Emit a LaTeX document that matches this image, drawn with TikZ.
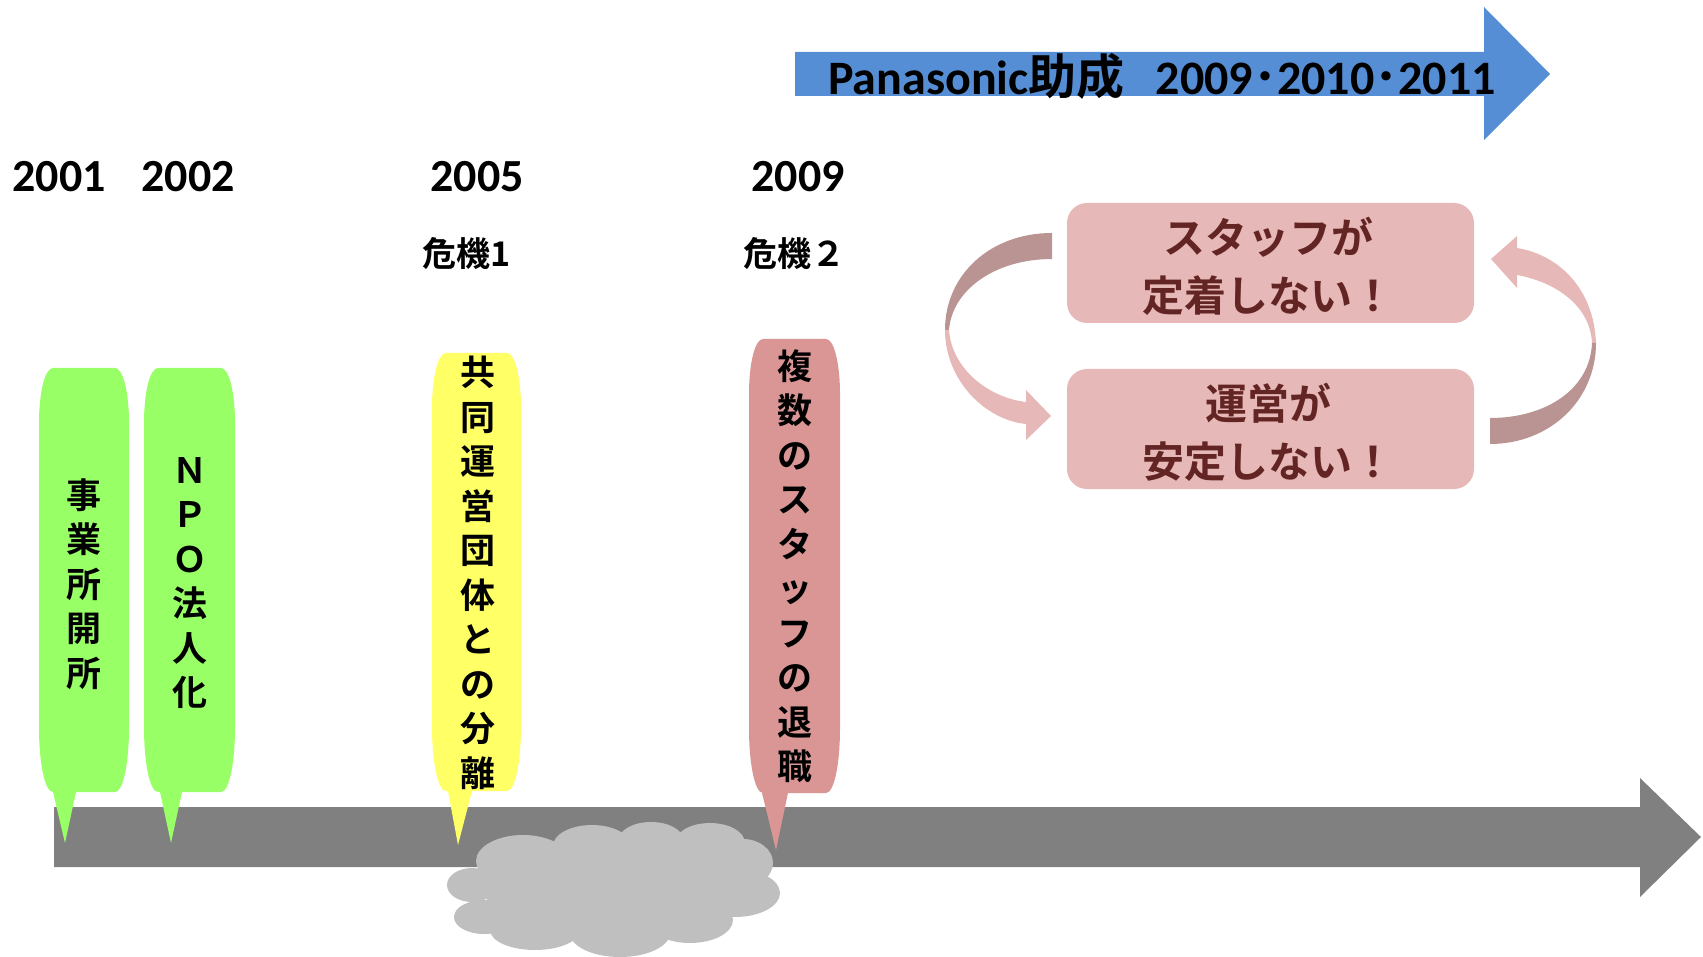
\documentclass[tikz,border=0pt]{standalone}
\usepackage{fontspec}
\newfontfamily\jp{Noto Sans CJK JP}[BoldFont={Noto Sans CJK JP Bold}]
\newfontfamily\calib{Carlito}
\definecolor{tlgray}{HTML}{808080}
\definecolor{cloudgray}{HTML}{BFBFBF}
\definecolor{bgreen}{HTML}{99FF66}
\definecolor{byellow}{HTML}{FFFF66}
\definecolor{bpink}{HTML}{D99694}
\definecolor{boxpink}{HTML}{E6B9B8}
\definecolor{boxtext}{HTML}{632523}
\definecolor{arrdark}{HTML}{B99492}
\definecolor{arrblue}{HTML}{558ED5}
\newcommand{\speechbub}[9]{%
 \fill[#9] (#1,#3+55) .. controls (#1,#3+24) and (#1+6,#3) .. (#1+14,#3) -- (#2-14,#3)
   .. controls (#2-6,#3) and (#2,#3+24) .. (#2,#3+55) -- (#2,#4-65)
   .. controls (#2,#4-28) and (#2-6,#4) .. (#2-14,#4) -- (#6,#4) -- (#7,#8) -- (#5,#4)
   -- (#1+14,#4) .. controls (#1+6,#4) and (#1,#4-28) .. (#1,#4-65) -- cycle;}
\begin{document}
\begin{tikzpicture}[x=1pt,y=-1pt,
  year/.style={font=\calib\bfseries\fontsize{46}{50}\selectfont, inner sep=0pt},
  crisis/.style={font=\jp\bfseries\fontsize{34}{38}\selectfont, inner sep=0pt},
  vtext/.style={font=\jp\bfseries\fontsize{35}{44.5}\selectfont, align=center, inner sep=0pt},
  boxtxt/.style={font=\jp\bfseries\fontsize{42}{58}\selectfont, align=center, inner sep=0pt, text=boxtext},
  pbox/.style={fill=boxpink, rounded corners=20pt}]
\useasboundingbox (0,0) rectangle (1703,957);
% timeline arrow
\fill[tlgray] (54,807) -- (1640,807) -- (1640,778) -- (1701,837) -- (1640,897) -- (1640,867) -- (54,867) -- cycle;
% cloud
\begin{scope}[cloudgray]
\fill (472,885) ellipse [x radius=25, y radius=17];
\fill (484,917) ellipse [x radius=30, y radius=17];
\fill (523,861) ellipse [x radius=47, y radius=26];
\fill (592,846) ellipse [x radius=39, y radius=21];
\fill (651,841) ellipse [x radius=33, y radius=19];
\fill (710,843) ellipse [x radius=35, y radius=20];
\fill (743,863) ellipse [x radius=30, y radius=24];
\fill (735,893) ellipse [x radius=45, y radius=24];
\fill (690,920) ellipse [x radius=43, y radius=23];
\fill (620,933) ellipse [x radius=50, y radius=24];
\fill (535,930) ellipse [x radius=45, y radius=20];
\fill (612,888) ellipse [x radius=130, y radius=42];
\end{scope}
% bubbles
\speechbub{39}{129}{368}{792}{53}{76}{65}{843}{bgreen}
\speechbub{144}{235}{368}{792}{160}{182}{171}{843}{bgreen}
\speechbub{432}{521}{353}{791}{448}{472}{458}{845}{byellow}
\speechbub{749}{840}{339}{793}{762}{788}{776}{850}{bpink}
\node[vtext] (t1) at (84,584) {事\\業\\所\\開\\所};
\node[vtext] (t2) at (190,583) {Ｎ\\Ｐ\\Ｏ\\法\\人\\化};
\node[vtext] (t3) at (478,573) {共\\同\\運\\営\\団\\体\\と\\の\\分\\離};
\node[vtext] (t4) at (795,566) {複\\数\\の\\ス\\タ\\ッ\\フ\\の\\退\\職};
% years
\node[year] (y1) at (59,177) {2001};
\node[year] (y2) at (188,177) {2002};
\node[year] (y5) at (477,177) {2005};
\node[year] (y9) at (798,177) {2009};
\node[crisis] (c1) at (467,254) {危機1};
\node[crisis] (c2) at (794,254) {危機２};
% blue arrow
\fill[arrblue] (795,52) -- (1484,52) -- (1484,7) -- (1550,74) -- (1484,140) -- (1484,96) -- (795,96) -- cycle;
\node[inner sep=0pt, anchor=west, font=\bfseries\fontsize{48}{52}\selectfont] (pana) at (828,76)
  {{\calib Panasonic}{\jp 助成}\hspace{0.65em}{\calib 2009}{\jp ･}{\calib 2010}{\jp ･}{\calib 2011}};
% boxes
\fill[pbox] (1067,203) rectangle (1474,323);
\fill[pbox] (1067,369) rectangle (1474,489);
\node[boxtxt] (b1) at (1268,266) {スタッフが\\定着しない！};
\node[boxtxt] (b2) at (1268,432) {運営が\\安定しない！};
% left curved arrow
\fill[arrdark] (1052,233) .. controls (990,233) and (945,275) .. (945,330)
  -- (949,330) .. controls (952,290) and (995,259) .. (1052,259) -- cycle;
\fill[boxpink] (945,330) .. controls (945,380) and (985,420) .. (1026,424)
  -- (1026,440) -- (1051,416) -- (1026,390) -- (1026,402)
  .. controls (990,398) and (952,370) .. (949,330) -- cycle;
% right curved arrow
\fill[boxpink] (1596,343) .. controls (1594,290) and (1560,255) .. (1517,248)
  -- (1517,236) -- (1491,259) -- (1517,288) -- (1517,275)
  .. controls (1555,282) and (1590,305) .. (1592,343) -- cycle;
\fill[arrdark] (1596,343) .. controls (1596,400) and (1550,444) .. (1490,444)
  -- (1490,418) .. controls (1545,418) and (1590,390) .. (1592,343) -- cycle;
\end{tikzpicture}
\end{document}
